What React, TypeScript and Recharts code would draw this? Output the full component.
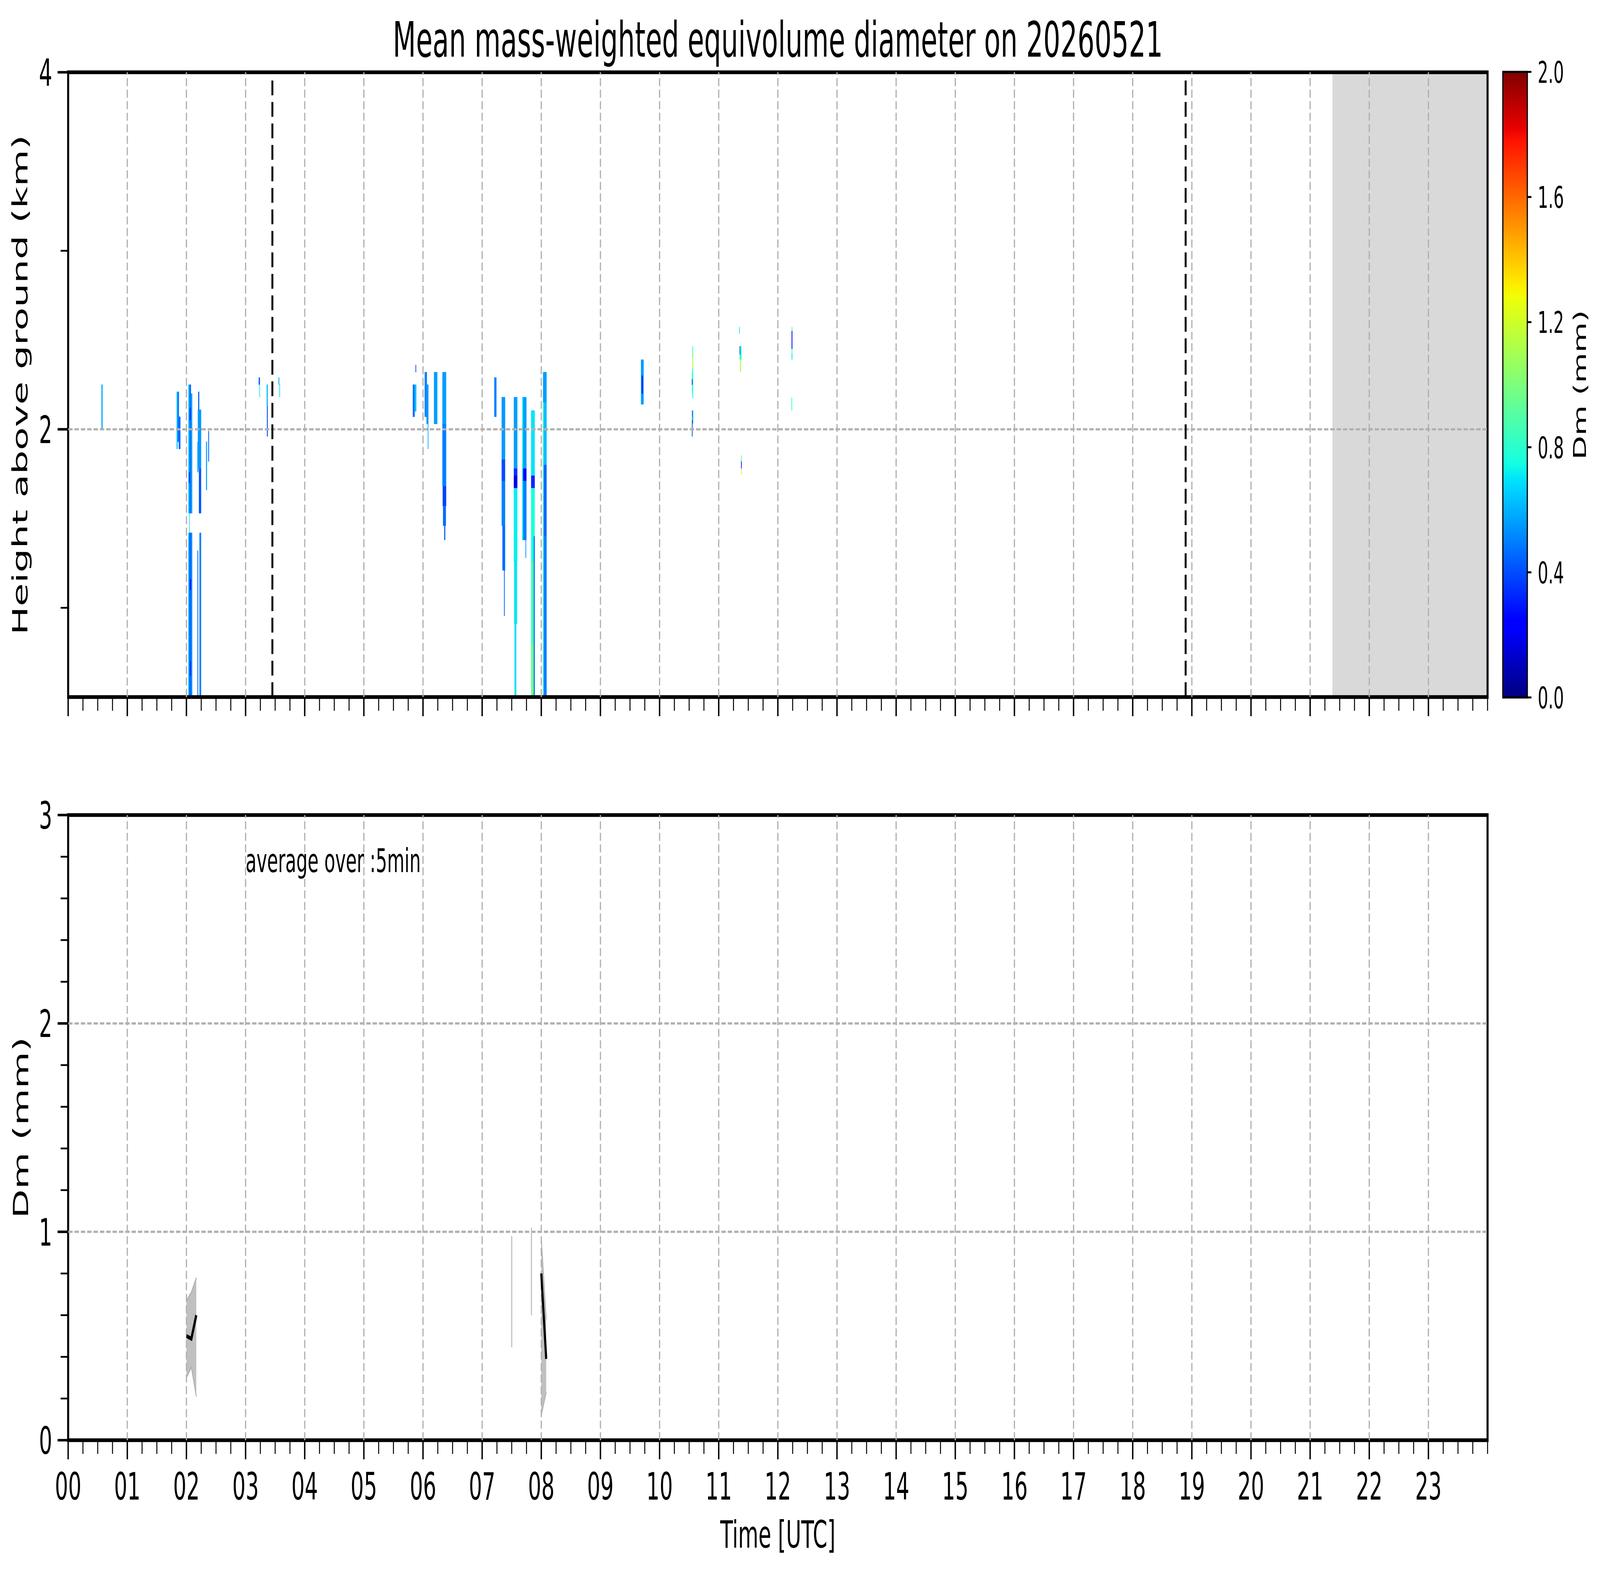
import React from "react";
import {
  ComposedChart,
  XAxis,
  YAxis,
  Line,
  Area,
  ReferenceArea,
  ReferenceLine,
  ReferenceDot,
} from "recharts";

const FONT = "'DejaVu Sans', sans-serif";
const TITLE = "Mean mass-weighted equivolume diameter on 20260521";
const PAGE_W = 7442;
const PAGE_H = 4031;

// tick labels / positions
const hourLabels = [
  "00", "01", "02", "03", "04", "05", "06", "07", "08", "09", "10", "11",
  "12", "13", "14", "15", "16", "17", "18", "19", "20", "21", "22", "23",
];
const timeTicks = Array.from({ length: 97 }, (_, i) => i / 4); // every 15 min
const hourGrid = hourLabels.map((_, i) => i).filter((h) => h > 0);
const heightTicks = [1, 2, 3, 4];
const heightMajor = [2, 4];
const dmTicks = [0, 0.2, 0.4, 0.6, 0.8, 1, 1.2, 1.4, 1.6, 1.8, 2, 2.2, 2.4, 2.6, 2.8, 3];
const dmMajor = [0, 1, 2, 3];
const cbarTicks = [0, 0.4, 0.8, 1.2, 1.6, 2.0];

// sunrise / sunset markers and no-data shading (hours UTC)
const sunLines = [3.453, 18.895];
const noData = [21.377, 24];

// radar Dm cells: [tStart h, tEnd h, base km, top km, Dm mm]
const rain0034 = [[0.565, 0.58, 2.0, 2.25, 0.58]];
const rain0150 = [
  [1.836, 1.848, 1.89, 2.21, 0.62],
  [1.853, 1.872, 1.93, 2.21, 0.48],
  [1.872, 1.896, 1.89, 2.07, 0.45],
];
const rain0202 = [
  [2.035, 2.055, 1.53, 2.25, 0.62],
  [2.055, 2.075, 1.53, 2.25, 0.45],
  [2.075, 2.096, 1.53, 2.2, 0.55],
  [2.035, 2.055, 0.5, 1.42, 0.58],
  [2.055, 2.075, 0.5, 1.42, 0.42],
  [2.075, 2.096, 0.5, 1.42, 0.52],
  [2.058, 2.07, 2.05, 2.12, 0.28],
  [2.045, 2.055, 1.7, 1.76, 0.3],
  [2.06, 2.075, 1.1, 1.16, 0.25],
  [2.062, 2.072, 0.62, 0.7, 0.28],
  [2.05, 2.054, 1.42, 1.53, 0.7],
];
const rain0211 = [
  [2.2, 2.215, 2.11, 2.21, 0.45],
  [2.195, 2.247, 1.78, 2.11, 0.55],
  [2.213, 2.247, 1.53, 1.78, 0.42],
  [2.188, 2.2, 1.76, 1.93, 0.55],
  [2.222, 2.247, 0.5, 1.42, 0.5],
  [2.188, 2.196, 0.5, 1.32, 0.45],
  [2.334, 2.346, 1.66, 1.93, 0.55],
  [2.37, 2.38, 1.82, 1.99, 0.45],
];
const rain0315 = [
  [3.224, 3.241, 2.25, 2.29, 0.45],
  [3.236, 3.241, 2.18, 2.25, 0.7],
  [3.359, 3.373, 2.13, 2.25, 0.6],
  [3.363, 3.373, 1.96, 2.13, 0.42],
  [3.558, 3.568, 2.25, 2.29, 0.58],
  [3.574, 3.58, 2.18, 2.25, 0.68],
];
const rain0550 = [
  [5.83, 5.857, 2.07, 2.25, 0.45],
  [5.857, 5.885, 2.1, 2.25, 0.62],
  [5.875, 5.882, 2.32, 2.36, 0.4],
  [6.03, 6.065, 2.07, 2.32, 0.5],
  [6.06, 6.09, 2.03, 2.25, 0.55],
  [6.083, 6.088, 1.89, 2.03, 0.55],
  [6.187, 6.24, 2.03, 2.32, 0.56],
  [6.33, 6.39, 2.03, 2.32, 0.56],
  [6.33, 6.39, 1.68, 2.03, 0.5],
  [6.335, 6.39, 1.57, 1.68, 0.38],
  [6.34, 6.385, 1.46, 1.57, 0.46],
  [6.36, 6.375, 1.38, 1.46, 0.45],
];
const rain0712 = [
  [7.207, 7.24, 2.07, 2.29, 0.5],
  [7.332, 7.387, 1.83, 2.18, 0.55],
  [7.332, 7.387, 1.71, 1.83, 0.4],
  [7.332, 7.387, 1.46, 1.71, 0.5],
  [7.345, 7.387, 1.21, 1.46, 0.46],
  [7.372, 7.38, 0.955, 1.21, 0.45],
  [7.538, 7.593, 1.78, 2.18, 0.56],
  [7.538, 7.593, 1.74, 1.78, 0.35],
  [7.538, 7.593, 1.67, 1.74, 0.18],
  [7.538, 7.593, 1.26, 1.67, 0.72],
  [7.543, 7.588, 0.91, 1.26, 0.7],
  [7.55, 7.575, 0.5, 0.91, 0.68],
  [7.68, 7.747, 1.78, 2.18, 0.56],
  [7.68, 7.747, 1.71, 1.78, 0.25],
  [7.68, 7.747, 1.38, 1.71, 0.5],
  [7.68, 7.69, 1.38, 2.18, 0.76],
  [7.735, 7.742, 1.28, 1.38, 0.55],
];
const rain0750 = [
  [7.83, 7.888, 1.74, 2.105, 0.7],
  [7.83, 7.888, 1.67, 1.74, 0.32],
  [7.83, 7.888, 1.26, 1.67, 0.76],
  [7.83, 7.888, 0.8, 1.26, 0.86],
  [7.83, 7.888, 0.5, 0.8, 0.95],
  [7.876, 7.888, 0.5, 1.4, 0.45],
  [8.032, 8.088, 2.15, 2.32, 0.56],
  [8.032, 8.088, 1.8, 2.15, 0.62],
  [8.032, 8.088, 1.4, 1.8, 0.45],
  [8.032, 8.088, 0.5, 1.4, 0.5],
  [8.032, 8.04, 0.5, 2.15, 0.85],
];
const rain0940 = [
  [9.687, 9.728, 2.14, 2.39, 0.55],
  [9.7, 9.715, 2.2, 2.3, 0.3],
  [10.556, 10.565, 2.4, 2.465, 0.9],
  [10.556, 10.565, 2.34, 2.4, 1.15],
  [10.556, 10.565, 2.175, 2.34, 0.75],
  [10.548, 10.555, 2.21, 2.32, 0.85],
  [10.548, 10.555, 2.25, 2.28, 0.35],
  [10.55, 10.565, 2.033, 2.105, 0.5],
  [10.545, 10.552, 1.96, 2.07, 1.0],
  [10.552, 10.556, 1.96, 2.05, 0.3],
];
const rain1120 = [
  [11.348, 11.353, 2.536, 2.573, 0.7],
  [11.355, 11.383, 2.391, 2.465, 0.8],
  [11.355, 11.362, 2.42, 2.465, 0.45],
  [11.363, 11.375, 2.32, 2.391, 1.1],
  [11.38, 11.387, 1.82, 1.853, 0.9],
  [11.38, 11.387, 1.78, 1.82, 0.3],
  [11.38, 11.387, 1.746, 1.78, 1.2],
  [12.235, 12.243, 2.55, 2.573, 0.9],
  [12.235, 12.243, 2.45, 2.55, 0.25],
  [12.235, 12.243, 2.42, 2.45, 0.9],
  [12.235, 12.243, 2.391, 2.42, 0.7],
  [12.232, 12.24, 2.105, 2.177, 0.85],
];

// 5-min averaged Dm at the surface (mean, min, max)
const dmTimesA = [2.0, 2.0833, 2.1667];
const dmMeanA = [0.5, 0.487, 0.6];
const dmLowA = [0.3, 0.35, 0.21];
const dmHighA = [0.67, 0.71, 0.78];
const dmTimesB = [8.0, 8.0833];
const dmMeanB = [0.8, 0.39];
const dmLowB = [0.12, 0.23];
const dmHighB = [0.97, 0.58];
// single 5-min samples (min..max only)
const stickTimes = [7.5, 7.8333];
const stickLow = [0.446, 0.6];
const stickHigh = [0.98, 1.02];

// jet colormap
const jetR = [[0, 0], [0.35, 0], [0.66, 1], [0.89, 1], [1, 0.5]];
const jetG = [[0, 0], [0.125, 0], [0.375, 1], [0.64, 1], [0.91, 0], [1, 0]];
const jetB = [[0, 0.5], [0.11, 1], [0.34, 1], [0.65, 0], [1, 0]];
const jetStops = [0, 0.11, 0.125, 0.34, 0.35, 0.375, 0.64, 0.65, 0.66, 0.89, 0.91, 1];

const piece = (pts: number[][], v: number) => {
  for (let i = 1; i < pts.length; i++) {
    if (v <= pts[i][0]) {
      const [x0, y0] = pts[i - 1];
      const [x1, y1] = pts[i];
      return y0 + ((y1 - y0) * (v - x0)) / (x1 - x0);
    }
  }
  return pts[pts.length - 1][1];
};
const jetAt = (v: number) => {
  const c = [jetR, jetG, jetB].map((p) => Math.round(piece(p, v) * 255));
  return `rgb(${c.join(",")})`;
};
const jet = (dm: number) => jetAt(Math.min(1, Math.max(0, dm / 2)));

const cells = [
  ...rain0034, ...rain0150, ...rain0202, ...rain0211, ...rain0315,
  ...rain0550, ...rain0712, ...rain0750, ...rain0940, ...rain1120,
];

const bandA = dmTimesA.map((t, i) => ({ t, dm: dmMeanA[i], band: [dmLowA[i], dmHighA[i]] }));
const bandB = dmTimesB.map((t, i) => ({ t, dm: dmMeanB[i], band: [dmLowB[i], dmHighB[i]] }));
const sticks = stickTimes.map((t, i) => [
  { t, v: stickLow[i] },
  { t, v: stickHigh[i] },
]);

const GRID = { stroke: "#b0b0b0", strokeWidth: 5.6, strokeDasharray: "20.5 9" };

const TimeTick = (props: any) => {
  const { x, y, payload, showLabel } = props;
  const v = payload.value;
  const major = Number.isInteger(v) && v < 24;
  return (
    <g>
      <line x1={x} x2={x} y1={y} y2={y + (major ? 49 : 35)} stroke="#000" strokeWidth={major ? 6.5 : 4.5} />
      {showLabel && major && (
        <text x={x} y={y + 152} textAnchor="middle" fontSize={97} fontFamily={FONT} fill="#000">
          {hourLabels[v]}
        </text>
      )}
    </g>
  );
};

const makeValueTick = (majors: number[]) => (props: any) => {
  const { x, y, payload } = props;
  const v = payload.value;
  const major = majors.some((m) => Math.abs(m - v) < 1e-6);
  return (
    <g>
      <line x1={x - (major ? 49 : 35)} x2={x} y1={y} y2={y} stroke="#000" strokeWidth={major ? 6.5 : 4.5} />
      {major && (
        <text x={x - 74} y={y + 35} textAnchor="end" fontSize={97} fontFamily={FONT} fill="#000">
          {Math.round(v)}
        </text>
      )}
    </g>
  );
};

const ColorbarTick = (props: any) => {
  const { x, y, payload } = props;
  return (
    <g>
      <line x1={x} x2={x + 19} y1={y} y2={y} stroke="#000" strokeWidth={5} />
      <text x={x + 48} y={y + 28} textAnchor="start" fontSize={77} fontFamily={FONT} fill="#000">
        {payload.value.toFixed(1)}
      </text>
    </g>
  );
};

const rotatedLabel = (text: string, x: number, y: number, size: number) => () => (
  <text
    x={x}
    y={y}
    transform={`rotate(-90 ${x} ${y})`}
    textAnchor="middle"
    fontSize={size}
    fontFamily={FONT}
    fill="#000"
  >
    {text}
  </text>
);

const TopPanel = () => (
  <ComposedChart width={PAGE_W} height={1900} margin={{ top: 185, right: 523, bottom: 16, left: 0 }}>
    <XAxis
      type="number"
      dataKey="t"
      domain={[0, 24]}
      ticks={timeTicks}
      interval={0}
      allowDataOverflow
      axisLine={false}
      tickLine={false}
      tickSize={0}
      tickMargin={0}
      height={100}
      tick={(p: any) => <TimeTick {...p} showLabel={false} />}
    />
    <YAxis
      type="number"
      domain={[0.5, 4]}
      ticks={heightTicks}
      interval={0}
      allowDataOverflow
      width={317}
      axisLine={false}
      tickLine={false}
      tickSize={0}
      tickMargin={0}
      tick={makeValueTick(heightMajor)}
      label={rotatedLabel("Height above ground (km)", 128, 985, 97)}
    />
    <ReferenceArea x1={noData[0]} x2={noData[1]} y1={0.5} y2={4} fill="#d9d9d9" fillOpacity={1} stroke="none" />
    {cells.map((c, i) => (
      <ReferenceArea
        key={`c${i}`}
        x1={c[0]}
        x2={c[1]}
        y1={c[2]}
        y2={c[3]}
        fill={jet(c[4])}
        fillOpacity={1}
        stroke={jet(c[4])}
        strokeWidth={1}
      />
    ))}
    {hourGrid.map((h) => (
      <ReferenceLine key={`g${h}`} x={h} {...GRID} />
    ))}
    <ReferenceLine y={2} {...GRID} />
    {sunLines.map((t) => (
      <ReferenceLine key={`s${t}`} x={t} stroke="#000" strokeWidth={9} strokeDasharray="38 17" />
    ))}
    <ReferenceArea x1={0} x2={24} y1={0.5} y2={4} fill="none" stroke="#000" strokeWidth={9.5} />
  </ComposedChart>
);

const BottomPanel = () => (
  <ComposedChart width={PAGE_W} height={2081} margin={{ top: 136, right: 523, bottom: 0, left: 0 }}>
    <XAxis
      type="number"
      dataKey="t"
      domain={[0, 24]}
      ticks={timeTicks}
      interval={0}
      allowDataOverflow
      axisLine={false}
      tickLine={false}
      tickSize={0}
      tickMargin={0}
      height={345}
      tick={(p: any) => <TimeTick {...p} showLabel />}
      label={() => (
        <text x={3618} y={2011} textAnchor="middle" fontSize={97} fontFamily={FONT} fill="#000">
          Time [UTC]
        </text>
      )}
    />
    <YAxis
      type="number"
      domain={[0, 3]}
      ticks={dmTicks}
      interval={0}
      allowDataOverflow
      width={317}
      axisLine={false}
      tickLine={false}
      tickSize={0}
      tickMargin={0}
      tick={makeValueTick(dmMajor)}
      label={rotatedLabel("Dm (mm)", 131, 936, 97)}
    />
    {[bandA, bandB].map((d, i) => (
      <Area
        key={`band${i}`}
        data={d}
        dataKey="band"
        type="linear"
        fill="#c0c0c0"
        fillOpacity={1}
        stroke="#b0b0b0"
        strokeWidth={4}
        dot={false}
        activeDot={false}
        isAnimationActive={false}
      />
    ))}
    {hourGrid.map((h) => (
      <ReferenceLine key={`g${h}`} x={h} {...GRID} />
    ))}
    <ReferenceLine y={1} {...GRID} />
    <ReferenceLine y={2} {...GRID} />
    {sticks.map((d, i) => (
      <Line
        key={`stick${i}`}
        data={d}
        dataKey="v"
        type="linear"
        stroke="#bfbfbf"
        strokeWidth={5}
        dot={false}
        activeDot={false}
        isAnimationActive={false}
      />
    ))}
    {[bandA, bandB].map((d, i) => (
      <Line
        key={`mean${i}`}
        data={d}
        dataKey="dm"
        type="linear"
        stroke="#000"
        strokeWidth={10}
        dot={false}
        activeDot={false}
        isAnimationActive={false}
      />
    ))}
    <ReferenceDot
      x={3}
      y={2.727}
      r={1}
      fill="none"
      stroke="none"
      label={(p: any) => (
        <text x={p.viewBox.x + 1} y={p.viewBox.y + 1} textAnchor="start" fontSize={83} fontFamily={FONT} fill="#000">
          average over :5min
        </text>
      )}
    />
    <ReferenceArea x1={0} x2={24} y1={0} y2={3} fill="none" stroke="#000" strokeWidth={9.5} />
  </ComposedChart>
);

const Colorbar = () => (
  <ComposedChart width={542} height={1900} margin={{ top: 184, right: 0, bottom: 115, left: 90 }}>
    <defs>
      <linearGradient id="jetGrad" x1="0" y1="1" x2="0" y2="0">
        {jetStops.map((s) => (
          <stop key={s} offset={s} stopColor={jetAt(s)} />
        ))}
      </linearGradient>
    </defs>
    <XAxis type="number" dataKey="x" domain={[0, 1]} hide allowDataOverflow />
    <YAxis
      orientation="right"
      type="number"
      domain={[0, 2]}
      ticks={cbarTicks}
      interval={0}
      allowDataOverflow
      width={338}
      axisLine={false}
      tickLine={false}
      tickSize={0}
      tickMargin={0}
      tick={ColorbarTick}
      label={rotatedLabel("Dm (mm)", 476, 985, 80)}
    />
    <ReferenceArea x1={0} x2={1} y1={0} y2={2} fill="url(#jetGrad)" fillOpacity={1} stroke="#000" strokeWidth={5.5} />
  </ComposedChart>
);

export default function App() {
  // fit the 7442x4031 figure into whatever viewport the page really gets
  const vw = typeof window !== "undefined" ? window.innerWidth : PAGE_W;
  const vh = typeof window !== "undefined" ? window.innerHeight : PAGE_H;
  const sx = Math.min(1, vw / PAGE_W);
  const sy = Math.min(1, vh / PAGE_H);
  return (
    <div style={{ position: "fixed", left: 0, top: 0, width: vw, height: vh, overflow: "hidden", background: "#fff" }}>
      <div
        style={{
          position: "absolute",
          left: 0,
          top: 0,
          width: PAGE_W,
          height: PAGE_H,
          background: "#fff",
          overflow: "hidden",
          fontFamily: FONT,
          transform: `scale(${sx}, ${sy})`,
          transformOrigin: "0 0",
        }}
      >
        <div style={{ position: "absolute", left: 0, top: 0 }}>
          <TopPanel />
        </div>
        <div style={{ position: "absolute", left: 0, top: 1950 }}>
          <BottomPanel />
        </div>
        <div style={{ position: "absolute", left: 6900, top: 0 }}>
          <Colorbar />
        </div>
        <svg style={{ position: "absolute", left: 0, top: 0 }} width={PAGE_W} height={180}>
          <text x={3618} y={145} textAnchor="middle" fontSize={125} fontFamily={FONT} fill="#000">
            {TITLE}
          </text>
        </svg>
      </div>
    </div>
  );
}
